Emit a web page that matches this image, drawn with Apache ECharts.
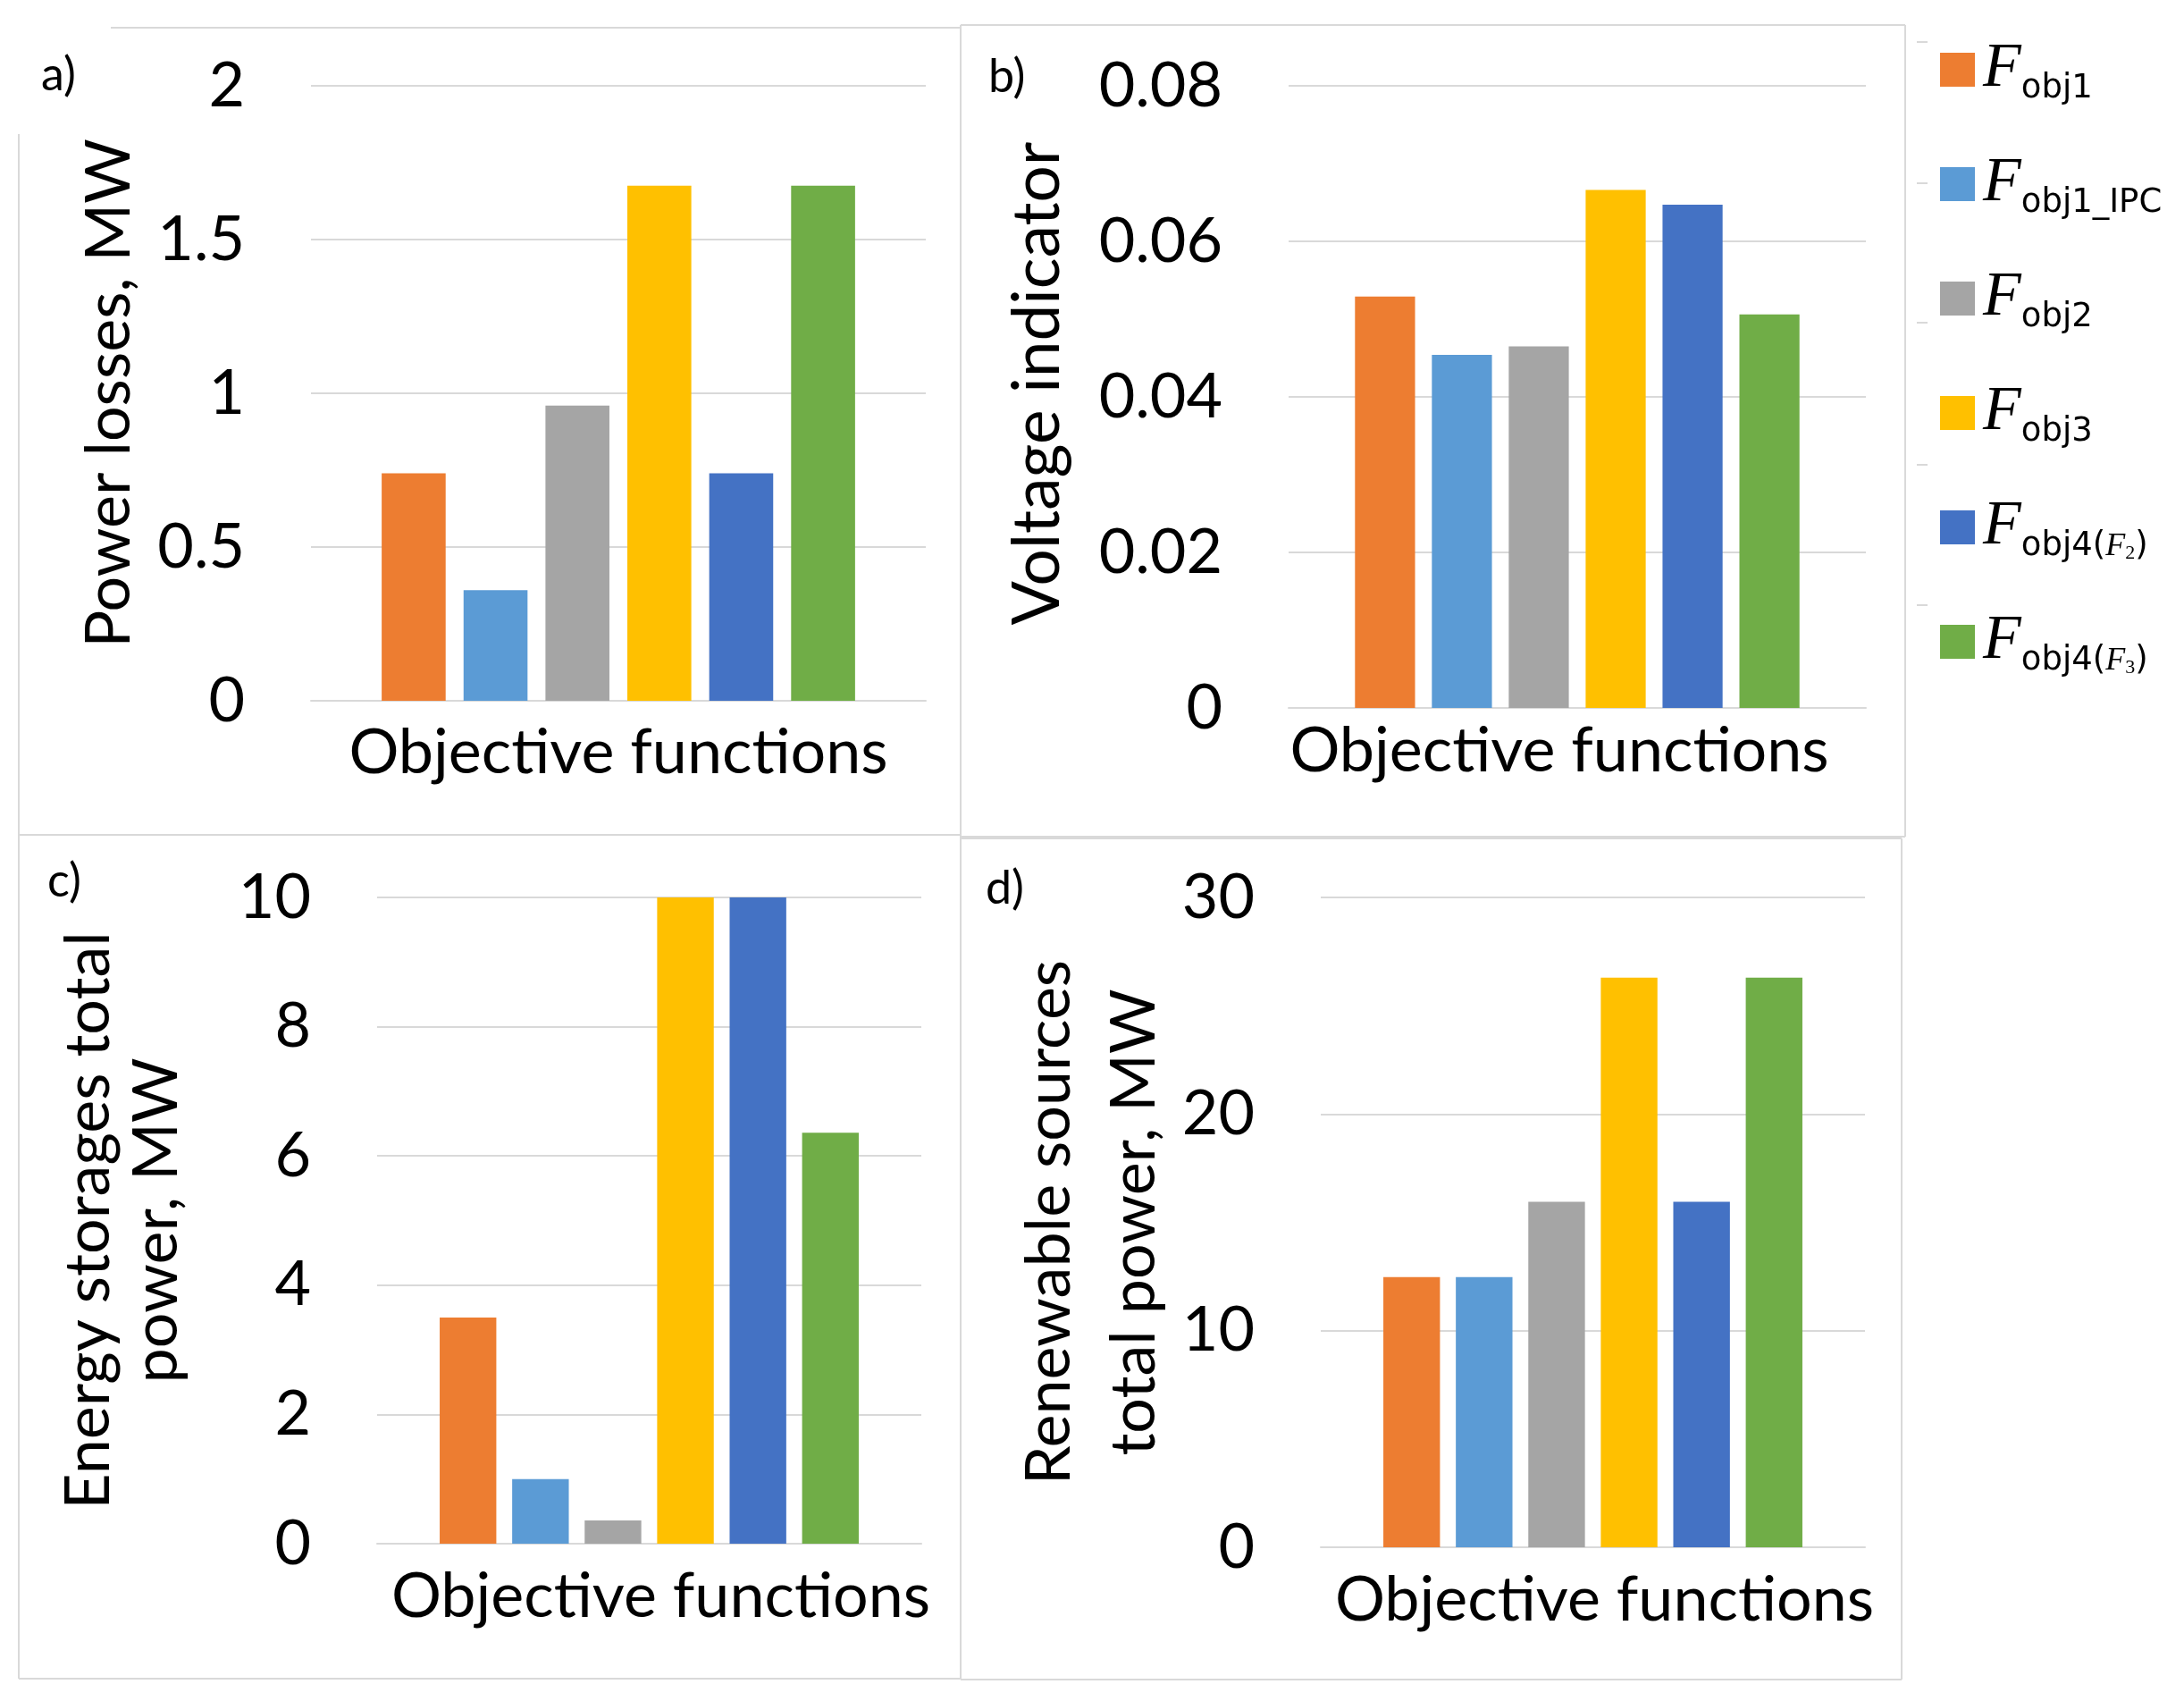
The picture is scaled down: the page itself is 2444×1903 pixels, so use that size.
<!DOCTYPE html>
<html>
<head>
<meta charset="utf-8">
<script src="https://cdn.jsdelivr.net/npm/echarts@6/dist/echarts.min.js"></script>
<style>
html,body{margin:0;padding:0;background:#fff;}
#chart{width:2444px;height:1903px;}
</style>
</head>
<body>
<div id="chart"></div>
<script>
// ---- data ----
const seriesNames = ['Fobj1', 'Fobj1_IPC', 'Fobj2', 'Fobj3', 'Fobj4(F2)', 'Fobj4(F3)'];
const seriesColors = ['#ED7D31', '#5B9BD5', '#A5A5A5', '#FFC000', '#4472C4', '#70AD47'];
const categoryLabel = 'Objective functions';
const powerLosses = [0.74, 0.36, 0.96, 1.675, 0.74, 1.675];
const voltageIndicator = [0.0529, 0.0454, 0.0465, 0.0666, 0.0647, 0.0506];
const storagePower = [3.5, 1.0, 0.36, 10, 10, 6.36];
const renewablePower = [12.47, 12.47, 15.95, 26.3, 15.95, 26.3];
const panelLabels = ['a)', 'b)', 'c)', 'd)'];
const yAxisTitles = ['Power losses, MW', 'Voltage indicator', 'Energy storages total\npower, MW', 'Renewable sources\ntotal power, MW'];
const yMax = [2, 0.08, 10, 30];
const yInterval = [0.5, 0.02, 2, 10];

const panelData = [powerLosses, voltageIndicator, storagePower, renewablePower];

// ---- layout ----
const grids = [
  {left: 348, top: 96, width: 688, height: 688},
  {left: 1442, top: 96, width: 646, height: 696},
  {left: 422, top: 1004, width: 609, height: 723},
  {left: 1478, top: 1004, width: 609, height: 727}
];
const yNameGap = [186, 241, 209, 161];
const yNameLH = [80, 80, 76, 95];
const yNameSize = [70, 73, 70, 70];
const yNamePad = [[0,0,0,0], [0,0,0,30], [0,0,0,0], [0,0,0,0]];
const xNameGap = [18, 8, 19, 19];
const xNamePad = [[0,0,0,0], [0,40,0,0], [0,0,0,26], [0,0,0,26]];
const FONT = 'Lato';
const GRID_COLOR = '#d9d9d9';

const xAxes = grids.map((g, i) => ({
  type: 'category', gridIndex: i, data: [categoryLabel],
  axisLabel: {show: false}, axisTick: {show: false},
  axisLine: {show: true, lineStyle: {color: GRID_COLOR, width: 2}},
  name: categoryLabel, nameLocation: 'middle', nameGap: xNameGap[i],
  nameTextStyle: {fontFamily: FONT, fontSize: 70, color: '#000', lineHeight: 80, padding: xNamePad[i]}
}));
const yAxes = grids.map((g, i) => ({
  type: 'value', gridIndex: i, min: 0, max: yMax[i], interval: yInterval[i],
  axisLine: {show: false}, axisTick: {show: false},
  splitLine: {lineStyle: {color: GRID_COLOR, width: 2}},
  axisLabel: {fontFamily: FONT, fontSize: 70, color: '#000', margin: 74},
  name: yAxisTitles[i], nameLocation: 'middle', nameRotate: 90, nameGap: yNameGap[i],
  nameMoveOverlap: false,
  nameTextStyle: {fontFamily: FONT, fontSize: yNameSize[i], color: '#000', lineHeight: yNameLH[i], padding: yNamePad[i]}
}));

const series = [];
panelData.forEach((arr, g) => {
  seriesNames.forEach((nm, k) => {
    series.push({
      type: 'bar', name: nm, xAxisIndex: g, yAxisIndex: g,
      data: [arr[k]], itemStyle: {color: seriesColors[k]},
      barGap: '28%', barCategoryGap: '23%', silent: true
    });
  });
});

const legendRich = {
  F: {fontFamily: 'Liberation Serif', fontStyle: 'italic', fontSize: 70, lineHeight: 80, verticalAlign: 'middle', color: '#000', padding: [0, 0, 0, 4]},
  s: {fontFamily: 'DejaVu Sans', fontSize: 37, lineHeight: 20, verticalAlign: 'bottom', color: '#000'},
  f: {fontFamily: 'Liberation Serif', fontStyle: 'italic', fontSize: 36, lineHeight: 60, verticalAlign: 'bottom', color: '#000'},
  n: {fontFamily: 'Liberation Serif', fontSize: 22, lineHeight: 15, verticalAlign: 'bottom', color: '#000'}
};
function legendLabel(name) {
  const sub = name.slice(1);
  const m = sub.match(/^(obj4)\(F(\d)\)$/);
  if (m) return '{F|F}{s|' + m[1] + '(}{f|F}{n|' + m[2] + '}{s|)}';
  return '{F|F}{s|' + sub + '}';
}

const borderLines = [
  [124, 31, 1075, 31], [21, 150, 21, 1878], [21, 934, 1075, 934],
  [1075, 28, 2132, 28], [1075, 28, 1075, 1878], [2132, 28, 2132, 936],
  [1075, 936, 2132, 936], [21, 1878, 1075, 1878],
  [1075, 938, 2128, 938], [2128, 938, 2128, 1879], [1075, 1879, 2128, 1879],
  [2145, 47, 2157, 47], [2145, 205, 2157, 205], [2145, 361, 2157, 361],
  [2145, 520, 2157, 520], [2145, 677, 2157, 677]
];
const labelPos = [[46, 58], [1106, 60], [53, 960], [1103, 968]];

const graphic = borderLines.map(l => ({
  type: 'line', silent: true, z: -1,
  shape: {x1: l[0], y1: l[1], x2: l[2], y2: l[3]},
  style: {stroke: GRID_COLOR, lineWidth: 2}
})).concat(panelLabels.map((t, i) => ({
  type: 'text', left: labelPos[i][0], top: labelPos[i][1], silent: true,
  style: {text: t, fontFamily: FONT, fontSize: 52, fill: '#000'}
})));

const option = {
  animation: false,
  backgroundColor: '#fff',
  grid: grids.map(g => Object.assign({containLabel: false}, g)),
  xAxis: xAxes,
  yAxis: yAxes,
  legend: {
    data: seriesNames, orient: 'vertical', left: 2166, top: 38,
    itemWidth: 39, itemHeight: 38, itemGap: 53, icon: 'rect',
    selectedMode: false,
    formatter: legendLabel,
    textStyle: {rich: legendRich}
  },
  graphic: graphic,
  series: series
};

const chart = echarts.init(document.getElementById('chart'), null, {renderer: 'canvas'});
chart.setOption(option);
</script>
</body>
</html>
